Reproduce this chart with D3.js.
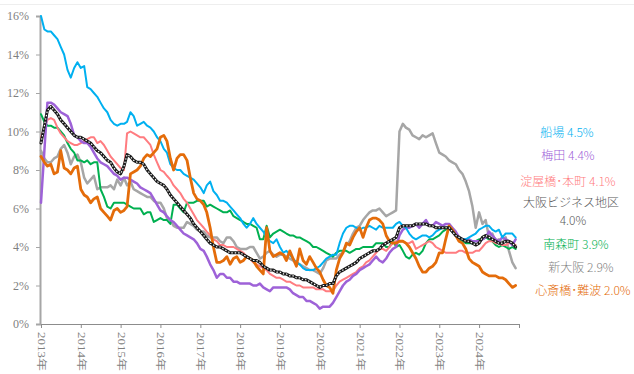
<!DOCTYPE html>
<html>
<head>
<meta charset="utf-8">
<script src="https://cdn.jsdelivr.net/npm/d3@7"></script>
<style>
  body { margin: 0; background: #fff; }
  svg { display: block; }
</style>
</head>
<body>
<svg id="chart" width="634" height="374"></svg>
<script>
// Monthly office vacancy rates (%), Jan 2013 – Dec 2024
const startYear = 2013;
const yearLabels = [2013, 2014, 2015, 2016, 2017, 2018, 2019, 2020, 2021, 2022, 2023, 2024];
const yTicks = [0, 2, 4, 6, 8, 10, 12, 14, 16];

const senba = [
  16.0,15.3,15.2,15.2,15.0,14.8,14.4,14.0,13.2,12.8,13.3,13.6,
  13.3,13.4,12.3,12.2,12.0,11.8,11.5,11.2,11.0,10.6,10.4,10.3,
  10.4,10.4,10.5,11.0,10.8,10.3,10.4,10.5,10.3,10.2,10.0,9.7,
  9.5,9.1,8.9,8.3,8.1,8.0,8.0,7.8,7.7,7.6,7.5,7.3,
  7.1,6.8,7.2,7.4,6.9,6.7,6.4,6.4,6.3,6.1,5.9,5.7,
  5.5,5.2,5.0,5.2,5.5,5.2,5.0,4.8,4.5,4.3,4.2,4.4,
  4.0,3.7,3.8,3.6,3.4,3.2,3.1,2.9,2.8,2.8,2.8,2.9,
  3.0,3.2,3.4,3.5,3.6,3.6,4.2,4.7,5.0,5.1,5.1,5.0,
  4.9,5.0,5.0,5.1,5.0,4.9,5.1,5.0,5.0,5.0,5.0,5.2,
  5.3,5.1,5.0,4.7,4.5,4.4,4.5,4.6,4.6,4.5,4.6,4.8,
  4.9,5.0,5.0,5.0,4.8,4.6,4.5,4.4,4.4,4.5,4.6,4.7,
  4.9,5.0,5.1,5.1,4.9,4.8,4.9,4.5,4.7,4.7,4.7,4.5
];
const umeda = [
  6.3,9.0,11.5,11.5,11.4,11.2,11.0,10.9,10.8,10.4,9.8,9.7,
  9.5,9.4,9.4,9.2,8.9,8.6,8.4,8.3,8.2,8.0,7.8,7.7,
  7.5,7.6,7.6,7.5,7.4,7.3,7.1,7.0,6.9,6.8,6.5,6.2,
  5.9,5.8,5.6,5.4,5.3,5.1,4.9,4.7,4.6,4.5,4.4,4.2,
  3.9,3.8,3.5,3.1,2.8,2.4,2.6,2.6,2.4,2.4,2.2,2.2,
  2.1,2.1,2.1,2.1,2.0,2.0,2.1,1.9,1.8,1.7,1.9,1.9,
  1.9,1.9,1.9,1.8,1.6,1.5,1.4,1.4,1.2,1.2,1.1,1.0,
  0.8,0.9,0.9,0.9,1.1,1.4,1.7,2.0,2.2,2.3,2.5,2.6,
  2.8,2.9,3.0,3.1,3.3,3.5,3.3,3.2,3.4,3.7,3.9,4.0,
  4.6,4.9,5.0,5.0,5.1,5.2,5.0,5.2,5.4,5.1,5.1,5.3,
  5.2,5.1,5.2,5.2,5.0,4.8,4.5,4.4,4.4,4.4,4.3,4.3,
  4.3,4.4,4.5,4.8,4.6,4.4,4.3,4.5,4.4,4.3,4.1,4.4
];
const yodoyabashi = [
  9.7,10.2,10.6,10.7,10.6,10.2,9.9,9.7,9.5,9.4,9.3,9.3,
  9.4,9.5,9.6,9.7,9.7,9.4,9.5,9.3,9.0,8.7,8.5,8.3,
  8.1,8.0,9.9,10.0,9.9,9.8,9.7,9.7,9.5,9.3,8.8,8.4,
  8.0,7.9,7.7,7.5,7.2,7.0,6.8,6.5,6.3,6.0,5.7,5.4,
  5.2,5.0,4.8,4.6,4.4,4.3,4.1,4.1,4.0,4.0,4.0,3.9,
  3.8,3.7,3.5,3.4,3.2,3.1,3.0,2.9,2.8,2.6,2.5,2.4,
  2.4,2.3,2.2,2.2,2.1,2.0,2.0,1.9,1.9,1.9,1.9,1.8,
  1.8,1.8,1.7,1.7,1.7,2.0,2.2,2.3,2.4,2.5,2.6,2.7,
  2.9,3.0,3.2,3.3,3.5,3.7,3.9,3.9,3.8,4.0,4.2,4.3,
  4.3,4.3,4.2,4.2,4.3,3.9,4.0,4.1,4.2,4.3,4.2,4.0,
  3.9,3.8,3.7,3.7,3.7,3.7,3.8,3.8,3.7,3.7,3.7,3.8,
  3.8,4.0,4.2,4.3,4.3,4.2,4.2,4.1,4.1,4.2,4.2,4.1
];
const osakaBiz = [
  9.4,10.3,11.1,11.3,11.1,10.9,10.6,10.4,10.2,10.0,9.8,9.7,
  9.7,9.6,9.5,9.4,9.2,9.0,8.9,8.7,8.5,8.4,8.1,7.9,
  7.8,8.2,8.8,8.7,8.5,8.4,8.4,8.3,8.0,7.8,7.6,7.4,
  7.3,7.2,7.0,6.7,6.5,6.3,6.1,5.9,5.7,5.5,5.2,5.0,
  4.8,4.6,4.4,4.2,4.1,4.0,4.0,3.9,3.8,3.7,3.7,3.7,
  3.7,3.6,3.5,3.4,3.3,3.3,3.2,3.0,2.9,2.8,2.8,2.7,
  2.7,2.6,2.6,2.5,2.5,2.4,2.4,2.3,2.3,2.2,2.1,2.0,
  1.9,2.0,2.0,2.1,2.1,2.5,2.7,2.8,2.9,3.0,3.1,3.2,
  3.4,3.5,3.6,3.7,3.8,3.8,3.9,4.1,4.2,4.3,4.4,4.5,
  5.0,5.1,5.1,5.1,5.1,5.2,5.2,5.2,5.2,5.1,5.1,5.0,
  5.0,5.0,5.0,5.0,4.8,4.6,4.5,4.4,4.3,4.3,4.2,4.1,
  4.2,4.5,4.6,4.5,4.4,4.3,4.2,4.2,4.3,4.3,4.2,4.0
];
const minamimorimachi = [
  10.9,10.5,10.3,10.3,10.2,10.2,10.0,9.8,9.4,9.1,8.9,8.5,
  8.5,8.4,8.5,8.3,8.4,8.4,7.0,6.6,6.1,6.0,6.3,6.3,
  6.3,6.3,6.2,6.1,6.0,6.0,6.0,5.7,5.8,5.8,5.3,5.4,
  5.5,5.4,5.4,5.2,6.2,6.2,6.0,5.8,6.3,6.3,6.3,6.4,
  6.4,6.4,6.1,6.2,6.1,6.0,5.9,5.8,5.8,5.9,5.6,5.5,
  5.4,5.3,5.2,5.2,5.1,5.0,4.4,4.4,5.1,4.5,4.7,4.8,
  4.9,4.8,4.7,4.6,4.6,4.5,4.5,4.4,4.3,4.2,4.0,4.0,
  3.9,3.8,3.7,3.6,3.5,3.7,3.8,3.8,3.8,3.7,3.8,3.9,
  3.9,4.0,4.0,4.0,4.0,4.2,4.2,4.2,4.0,4.0,4.4,4.0,
  4.1,3.8,3.5,3.4,3.6,3.7,3.6,3.8,4.2,4.4,4.4,4.5,
  4.6,4.8,4.9,5.0,4.8,4.6,4.4,4.3,4.2,4.2,4.2,4.3,
  4.4,4.4,4.5,4.4,4.3,4.1,4.0,4.1,4.0,3.9,4.0,3.9
];
const shinOsaka = [
  9.0,8.6,8.4,8.4,8.6,8.7,9.1,9.3,8.9,8.3,8.7,8.8,
  8.4,7.6,7.3,7.5,7.7,7.0,7.1,7.1,7.1,7.2,7.0,7.5,
  7.2,7.6,7.2,7.4,7.0,6.9,6.8,6.7,6.6,6.6,6.4,6.3,
  6.3,6.0,5.5,5.4,5.1,5.0,5.0,5.0,5.3,5.2,5.1,4.9,
  4.8,4.8,4.6,4.5,4.5,4.5,4.3,4.2,4.5,4.5,4.3,4.0,
  3.9,3.9,3.9,4.0,4.0,3.7,3.4,3.5,3.7,3.8,3.6,3.5,
  3.6,3.6,3.5,3.4,3.3,3.2,3.1,3.0,2.9,2.8,2.8,2.7,
  2.6,2.9,3.3,3.4,3.4,3.4,3.6,3.7,4.1,4.3,4.7,5.0,
  5.1,5.4,5.6,5.8,5.9,5.9,6.0,5.8,5.6,5.7,5.8,5.9,
  10.0,10.4,10.2,10.1,9.8,9.7,9.6,9.8,9.7,9.8,9.9,9.4,
  8.9,8.8,8.7,8.5,8.4,8.3,8.0,7.8,7.4,6.9,6.1,5.0,
  5.8,5.2,5.4,4.5,4.7,4.3,4.4,4.2,4.5,3.8,3.2,2.9
];
const shinsaibashi = [
  8.7,8.4,8.2,8.3,7.8,7.9,9.0,8.1,8.0,7.8,8.1,8.2,
  7.0,6.7,6.6,6.3,6.5,6.6,6.0,5.8,5.6,5.4,5.9,6.0,
  5.8,5.9,6.1,7.8,7.9,8.0,8.2,8.6,8.8,8.7,8.9,9.1,
  9.7,9.8,9.5,8.6,8.0,8.6,8.8,8.8,8.5,7.6,6.8,6.5,
  6.4,6.2,5.8,5.0,4.0,3.2,3.2,3.3,3.5,3.1,3.4,3.5,
  3.2,3.3,3.5,3.4,3.3,3.0,2.8,2.6,5.0,3.8,3.5,3.6,
  3.7,3.6,3.3,3.8,3.4,3.0,3.9,3.3,3.1,3.5,3.2,2.9,
  2.7,2.3,2.0,1.9,1.6,2.8,3.4,3.7,4.2,4.1,4.5,4.8,
  5.0,4.5,5.0,5.4,5.5,5.5,5.4,5.2,4.6,4.3,4.2,4.2,
  4.3,4.3,4.2,4.0,3.7,3.4,3.0,2.7,2.7,2.9,3.0,3.2,
  3.7,3.7,4.4,5.1,4.9,4.6,4.3,4.2,3.9,3.4,3.2,3.1,
  3.0,2.7,2.6,2.5,2.5,2.5,2.4,2.4,2.3,2.1,1.9,2.0
];

const legendLabels = [
  "船場 4.5%", "梅田 4.4%", "淀屋橋･本町 4.1%", "大阪ビジネス地区",
  "4.0%", "南森町 3.9%", "新大阪 2.9%", "心斎橋･難波 2.0%"
];

// Chart geometry
const svg = d3.select("#chart");
const plotLeft = 40, plotRight = 519, plotTop = 16, plotBottom = 324;

const x = d3.scaleTime()
  .domain([new Date(startYear, 0, 1), new Date(startYear + yearLabels.length, 0, 1)])
  .range([plotLeft + 1, plotRight]);
const y = d3.scaleLinear().domain([0, 16]).range([plotBottom, plotTop]);

// faint frame line along the top
svg.append("line").attr("x1", 0).attr("x2", 634).attr("y1", 4.5).attr("y2", 4.5)
  .attr("stroke", "#eeeeee").attr("stroke-width", 1);

// Y axis
const yAxis = svg.append("g").attr("transform", `translate(${plotLeft},0)`)
  .call(d3.axisLeft(y).tickValues(yTicks).tickFormat(d => d + "%").tickSize(4).tickPadding(7));
yAxis.select(".domain").attr("stroke", "#a6a6a6").attr("stroke-width", 2);
yAxis.selectAll(".tick line").attr("stroke", "#a6a6a6");
yAxis.selectAll(".tick text")
  .attr("fill", "#7f7f7f")
  .style("font-family", "'Liberation Serif', 'DejaVu Serif', serif")
  .style("font-size", "12px");

// X axis
const xTickDates = yearLabels.map(yr => new Date(yr, 0, 1))
  .concat([new Date(startYear + yearLabels.length, 0, 1)]);
const xAxis = svg.append("g").attr("transform", `translate(0,${plotBottom})`)
  .call(d3.axisBottom(x).tickValues(xTickDates)
    .tickFormat(d => d.getFullYear() < startYear + yearLabels.length ? d.getFullYear() + "年" : "")
    .tickSize(4).tickSizeOuter(0));
xAxis.select(".domain").attr("stroke", "#8c8c8c").attr("stroke-width", 1);
xAxis.selectAll(".tick line").attr("stroke", "#8c8c8c");
xAxis.selectAll(".tick text")
  .attr("fill", "#7f7f7f")
  .attr("x", 0).attr("y", 0).attr("dy", "0.35em")
  .attr("transform", "translate(0,8) rotate(90) scale(1.3,1)")
  .style("text-anchor", "start")
  .style("font-family", "'Liberation Serif', 'Noto Sans CJK JP', serif")
  .style("font-size", "10px");

// Lines
const line = d3.line()
  .x((d, i) => x(new Date(startYear, i, 1)))
  .y(d => y(d));

const plot = svg.append("g").attr("fill", "none")
  .attr("stroke-linejoin", "round").attr("stroke-linecap", "round");

const drawn = [
  { data: shinOsaka, color: "#a6a6a6", width: 2.5 },
  { data: minamimorimachi, color: "#00b050", width: 2 },
  { data: yodoyabashi, color: "#ff7c80", width: 2 },
  { data: umeda, color: "#9e62d8", width: 2.5 },
  { data: senba, color: "#00b0f0", width: 2 },
  { data: shinsaibashi, color: "#e46c0a", width: 2.8 }
];
drawn.forEach(s => {
  plot.append("path").attr("d", line(s.data))
    .attr("stroke", s.color).attr("stroke-width", s.width);
});

// Business district average: black line with white dotted core
plot.append("path").attr("d", line(osakaBiz))
  .attr("stroke", "#1a1a1a").attr("stroke-width", 3);
plot.append("path").attr("d", line(osakaBiz))
  .attr("stroke", "#ffffff").attr("stroke-width", 1.2)
  .attr("stroke-dasharray", "1.4,2")
  .attr("stroke-linecap", "butt");

// Labels at right
const legendColors = ["#00b0f0", "#9e62d8", "#ff7c80", "#595959", "#595959", "#00b050", "#808080", "#e46c0a"];
const legendPos = [[567, 133], [568, 156], [568, 182], [571, 203], [573, 221], [576, 245], [581, 268], [583, 291]];
svg.append("g").selectAll("text").data(legendLabels).join("text")
  .attr("x", (d, i) => legendPos[i][0])
  .attr("y", (d, i) => legendPos[i][1])
  .attr("dy", "0.35em")
  .attr("text-anchor", "middle")
  .attr("fill", (d, i) => legendColors[i])
  .style("font-family", "'Noto Sans CJK JP', sans-serif")
  .style("font-size", "12px")
  .style("font-weight", "300")
  .text(d => d);
</script>
</body>
</html>
